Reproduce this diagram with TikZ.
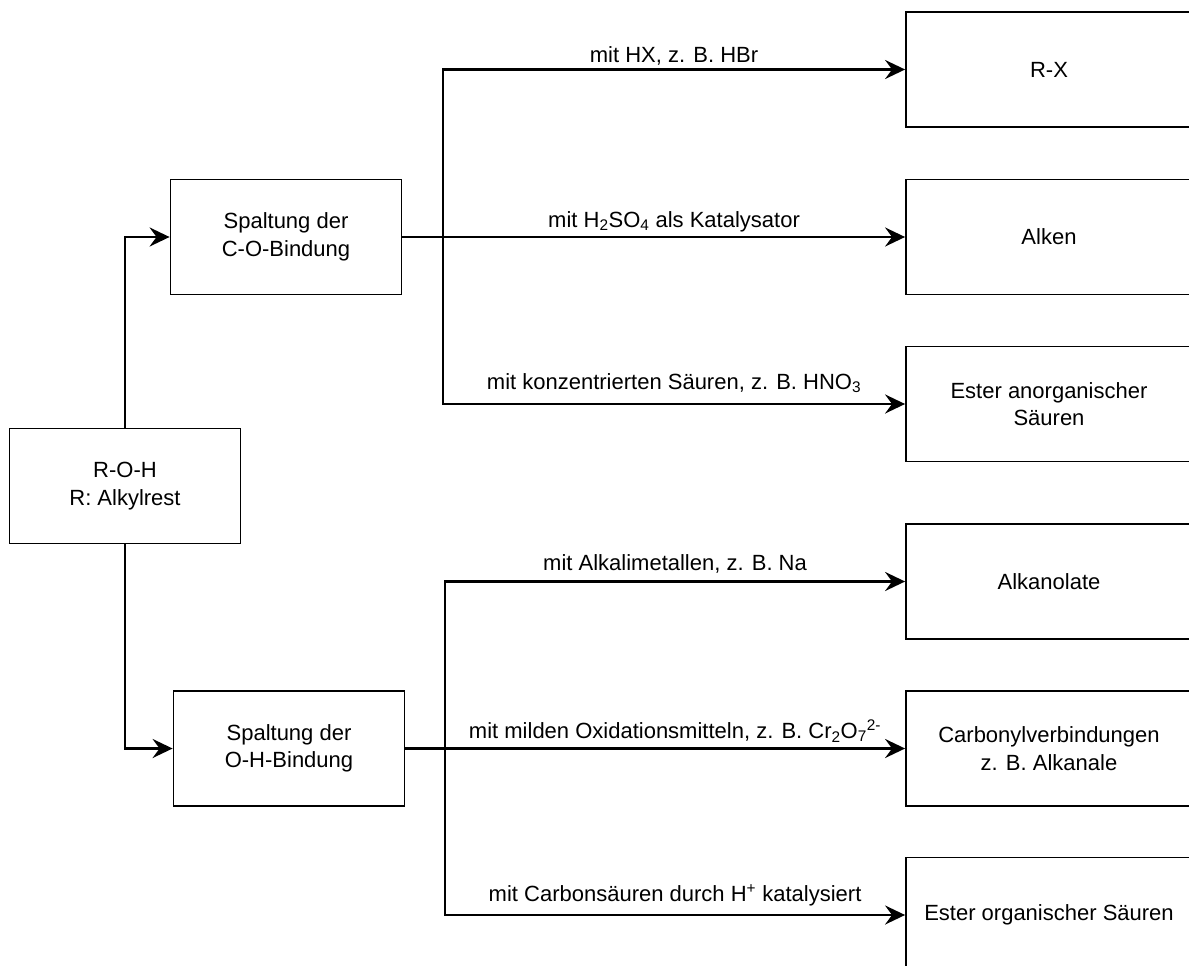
\documentclass[tikz,border=0pt]{standalone}
\usepackage{fontspec}
\setmainfont{Liberation Sans}
\usepackage{tikz}
\usetikzlibrary{arrows.meta}

\begin{document}
\begin{tikzpicture}[x=1pt, y=-1pt,
  box/.style={draw, line width=1.8pt, minimum width=231pt, minimum height=115pt,
    inner sep=0pt, align=center, font=\fontsize{22}{27.5}\selectfont},
  endbox/.style={box, minimum width=286pt},
  conn/.style={line width=2.8pt, -{Stealth[length=20pt, width=19pt, inset=7pt]}},
  lbl/.style={anchor=base, inner sep=0pt, yshift=#1, font=\fontsize{22}{26}\selectfont},
  lbl/.default=10pt]
  \useasboundingbox (0,0) rectangle (1189,966);
  \clip (0,0) rectangle (1189,966);

  % left column
  \node[box] (roh) at (125,486) {R-O-H\\R: Alkylrest};
  \node[box] (co) at (286,237) {Spaltung der\\C-O-Bindung};
  \node[box] (oh) at (289,748.5) {Spaltung der\\O-H-Bindung};

  % products
  \node[endbox] (rx) at (1049,69.5) {R-X};
  \node[endbox] (alken) at (1049,237) {Alken};
  \node[endbox] (esta) at (1049,404) {Ester anorganischer\\Säuren};
  \node[endbox] (alko) at (1049,581.5) {Alkanolate};
  \node[endbox] (carb) at (1049,748.5) {Carbonylverbindungen\\z. B. Alkanale};
  \node[endbox] (esto) at (1049,915) {Ester organischer Säuren};

  \coordinate (ju1) at (443,237);
  \coordinate (ju2) at (445,748.5);

  \draw[conn] (roh.north) |- (co.west);
  \draw[conn] (roh.south) |- (oh.west);

  % C-O cleavage
  \draw[conn] (co.east) -- (ju1) |- (rx.west)
    node[lbl=7pt, pos=0.75] {mit HX, z. B. HBr};
  \draw[conn] (co.east) -- (ju1) -- (alken.west)
    node[lbl=10pt, midway] {mit H\textsubscript{2}SO\textsubscript{4} als Katalysator};
  \draw[conn] (co.east) -- (ju1) |- (esta.west)
    node[lbl=15pt, pos=0.75] {mit konzentrierten Säuren, z. B. HNO\textsubscript{3}};

  % O-H cleavage
  \draw[conn] (oh.east) -- (ju2) |- (alko.west)
    node[lbl=11pt, pos=0.75] {mit Alkalimetallen, z. B. Na};
  \draw[conn] (oh.east) -- (ju2) -- (carb.west)
    node[lbl=10pt, midway] {mit milden Oxidationsmitteln, z. B. Cr\textsubscript{2}O\textsubscript{7}\textsuperscript{2-}};
  \draw[conn] (oh.east) -- (ju2) |- (esto.west)
    node[lbl=14pt, pos=0.75] {mit Carbonsäuren durch H\textsuperscript{+} katalysiert};
\end{tikzpicture}
\end{document}
